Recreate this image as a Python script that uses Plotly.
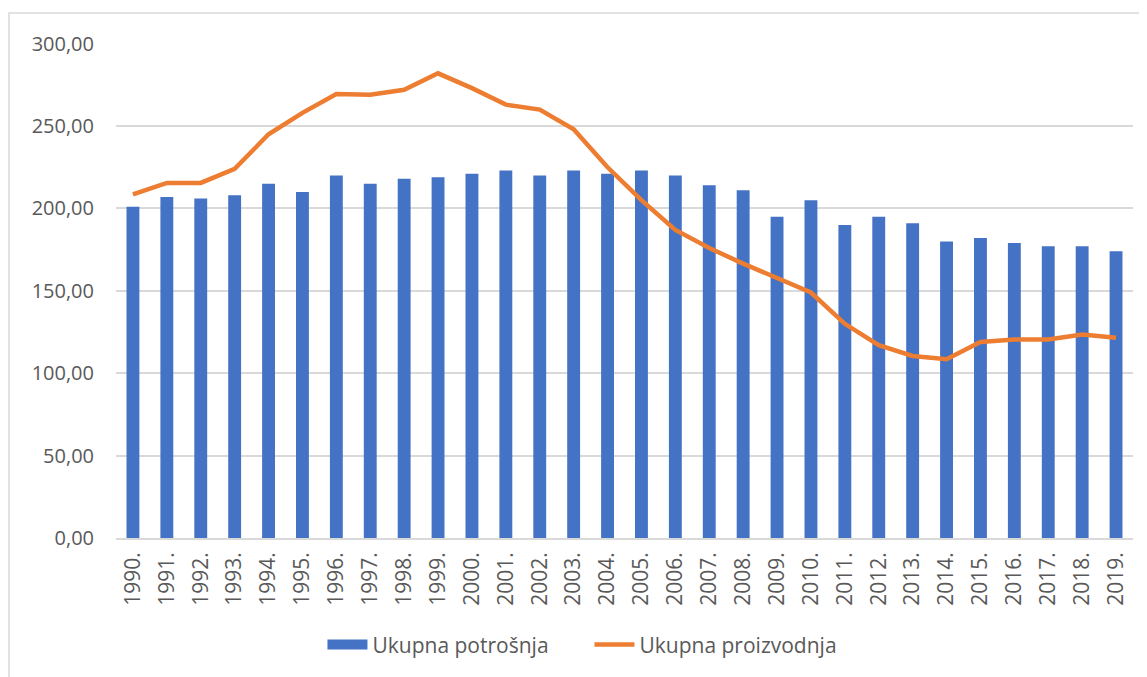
import plotly.graph_objects as go

years = [str(y) + "." for y in range(1990, 2020)]

potrosnja = [201, 207, 206, 208, 215, 210, 220, 215, 218, 219,
             221, 223, 220, 223, 221, 223, 220, 214, 211, 195,
             205, 190, 195, 191, 180, 182, 179, 177, 177, 174]

proizvodnja = [208.5, 215.5, 215.5, 224, 245, 258, 269.5, 269, 272, 282,
               273, 263, 260, 248, 225, 205, 187, 176, 166.5, 157.5,
               149, 130, 117, 110.5, 108.5, 119, 120.5, 120.5, 123.5, 121.5]

font_name = "Open Sans"
grey_txt = "#595959"
grid = "#d9d9d9"
blue = "#4472C4"
orange = "#ED7D31"

fig = go.Figure()
fig.add_trace(go.Bar(name="Ukupna potrošnja", x=years, y=potrosnja, showlegend=False,
                     marker=dict(color=blue, line=dict(width=0))))
# legend-only entry so the swatch is a wide block like in excel
fig.add_trace(go.Scatter(name="Ukupna potrošnja", x=[None], y=[None], mode="lines",
                         line=dict(color=blue, width=16), legendrank=1))
fig.add_trace(go.Scatter(name="Ukupna proizvodnja", x=years, y=proizvodnja, legendrank=2,
                         mode="lines", line=dict(color=orange, width=4.5)))

# chart border like the excel frame
fig.add_shape(type="rect", xref="paper", yref="paper",
              x0=-0.1052, x1=1.08, y0=-0.4, y1=1.0606,
              line=dict(color=grid, width=1.5), fillcolor="rgba(0,0,0,0)", layer="below")

fig.update_layout(
    width=1147, height=677,
    margin=dict(l=108, r=22, t=35, b=147),
    plot_bgcolor="white", paper_bgcolor="white",
    separators=", ",
    bargap=0.62,
    font=dict(family=font_name, size=20, color=grey_txt),
    showlegend=True,
    legend=dict(orientation="h", x=0.203, xanchor="left", y=-0.216, yanchor="middle",
                font=dict(family=font_name, size=21, color=grey_txt), itemwidth=40,
                entrywidth=212),
)
fig.update_yaxes(range=[0, 300.4], tickvals=[0, 50, 100, 150, 200, 250, 300], tickformat=".2f",
                 gridcolor=grid, gridwidth=1.5, zeroline=False, showline=False, ticks="",
                 ticklabelstandoff=21, tickfont=dict(size=20, color=grey_txt))
fig.update_xaxes(tickangle=-90, showgrid=False, showline=True, linecolor=grid, linewidth=1.5,
                 ticks="", ticklabelstandoff=4, tickfont=dict(size=21, color=grey_txt))

fig.write_html("out.html")
